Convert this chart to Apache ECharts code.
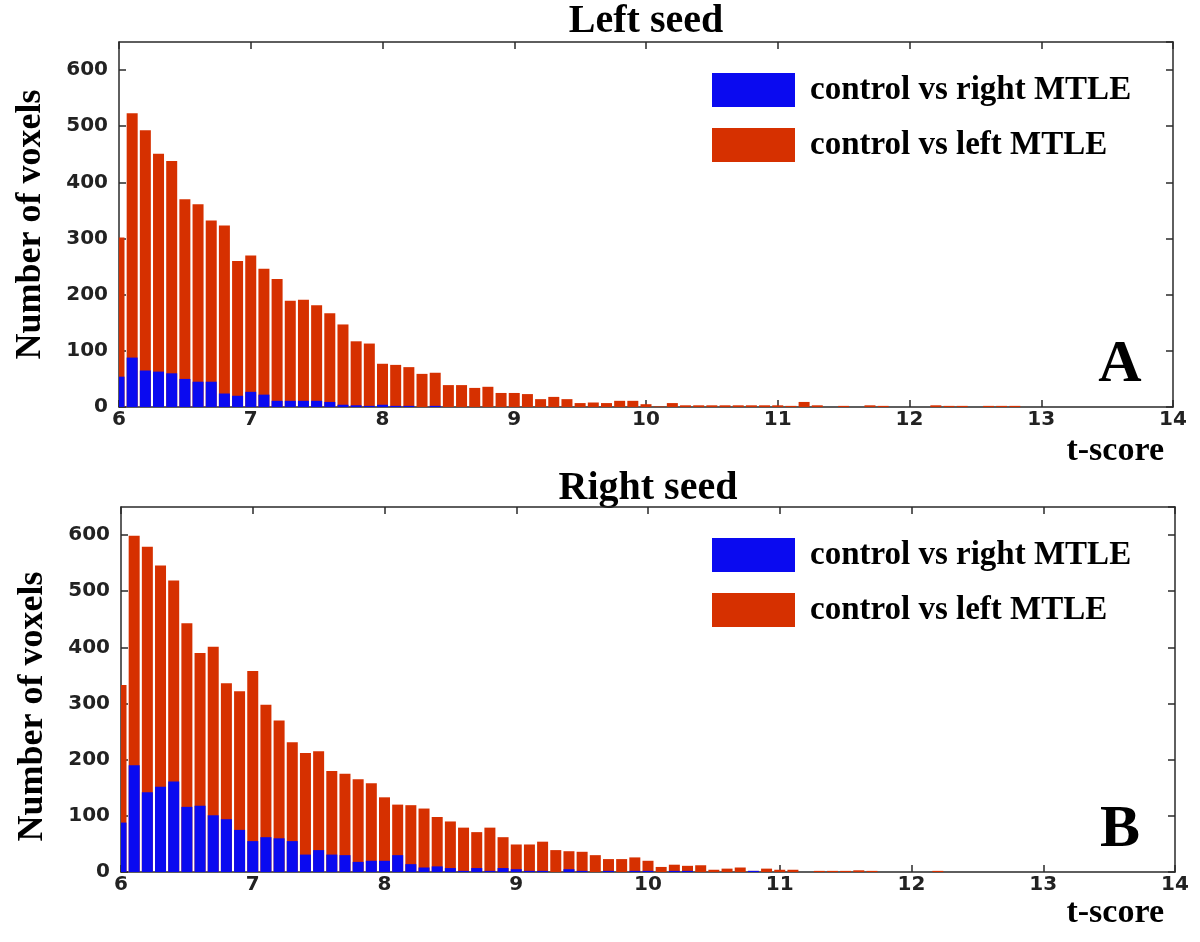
<!DOCTYPE html>
<html>
<head>
<meta charset="utf-8">
<script src="https://cdn.jsdelivr.net/npm/echarts@6/dist/echarts.min.js"></script>
<style>
html,body{margin:0;padding:0;background:#ffffff;}
#chart{width:1200px;height:942px;}
</style>
</head>
<body>
<div id="chart"></div>
<script>
// ---- data ----
const tBins = [6.0,6.1,6.2,6.3,6.4,6.5,6.6,6.7,6.8,6.9,
               7.0,7.1,7.2,7.3,7.4,7.5,7.6,7.7,7.8,7.9,
               8.0,8.1,8.2,8.3,8.4,8.5,8.6,8.7,8.8,8.9,
               9.0,9.1,9.2,9.3,9.4,9.5,9.6,9.7,9.8,9.9,
               10.0,10.1,10.2,10.3,10.4,10.5,10.6,10.7,10.8,10.9,
               11.0,11.1,11.2,11.3,11.4,11.5,11.6,11.7,11.8,11.9,
               12.0,12.1,12.2,12.3,12.4,12.5,12.6,12.7,12.8,12.9,
               13.0];
const seriesNames = ['control vs right MTLE', 'control vs left MTLE'];
const panelTitles = ['Left seed', 'Right seed'];
const panelLetters = ['A', 'B'];
const xAxisTitle = 't-score';
const yAxisTitle = 'Number of voxels';

// Panel A (left seed)
const leftMTLE_A = [302,523,493,451,438,370,361,332,323,260,
                    270,246,228,189,191,181,167,147,117,113,
                    77,75,71,59,61,39,39,34,36,25,
                    25,23,14,18,14,7,8,7,11,11,
                    5,1,7,3,3,3,3,3,3,3,
                    3,2,9,3,0,2,0,3,2,0,
                    0,0,3,2,2,0,2,2,2,0,
                    0];
const rightMTLE_A = [54,88,65,63,60,50,45,45,24,20,
                     27,22,11,11,11,11,9,4,3,2,
                     4,2,2,0,2,0,0,0,0,0,
                     0,0,0,0,0,0,0,0,0,0,
                     0,0,0,0,0,0,0,0,0,0,
                     0,0,0,0,0,0,0,0,0,0,
                     0,0,0,0,0,0,0,0,0,0,
                     0];
// Panel B (right seed)
const leftMTLE_B = [333,599,579,546,519,443,390,401,336,322,
                    358,298,270,231,212,215,180,175,165,158,
                    133,120,119,113,98,90,79,71,79,62,
                    49,49,54,39,37,36,30,23,23,26,
                    20,9,13,11,12,4,6,8,2,6,
                    4,4,0,2,2,2,3,2,0,0,
                    0,0,2,0,0,0,0,0,0,0,
                    0];
const rightMTLE_B = [88,190,142,152,161,116,118,101,94,75,
                     55,62,60,55,31,39,31,30,18,20,
                     20,30,14,8,10,7,2,7,2,7,
                     5,2,2,0,5,2,0,2,0,2,
                     2,0,2,2,0,0,0,0,2,0,
                     0,0,0,0,0,0,0,0,0,0,
                     0,0,0,0,0,0,0,0,0,0,
                     0];

// ---- styling ----
const RED = '#d63000';
const BLUE = '#0a0af0';
const AXIS = '#2a2a2a';
const BAR_PX = 11;
const tickFont = { fontFamily: 'DejaVu Sans', fontWeight: 'bold', fontSize: 20, color: '#222' };
const serifBold = 'Liberation Serif';

const grids = [
  { left: 119, top: 42, width: 1054, height: 365 },
  { left: 121, top: 507, width: 1054, height: 365 }
];

function pairs(arr) { return tBins.map((t, i) => [t, arr[i]]); }

// histogram bar drawn through the axis scales, clipped to the plot box
function renderBin(params, api) {
  const t = api.value(0), v = api.value(1);
  const base = api.coord([t, 0]);
  const top = api.coord([t, v]);
  const cs = params.coordSys;
  const rect = echarts.graphic.clipRectByRect(
    { x: base[0] - BAR_PX / 2, y: top[1], width: BAR_PX, height: base[1] - top[1] },
    { x: cs.x, y: cs.y, width: cs.width, height: cs.height }
  );
  if (!rect) return null;
  return { type: 'rect', shape: rect, style: { fill: api.visual('color') } };
}

const xAxes = [], yAxes = [], series = [];
grids.forEach((g, gi) => {
  xAxes.push({
    gridIndex: gi, type: 'value', min: 6, max: 14, interval: 1, position: 'bottom',
    axisLine: { show: true, onZero: false, lineStyle: { color: AXIS, width: 1.5 } },
    axisTick: { show: true, inside: true, length: 7, lineStyle: { color: AXIS, width: 1.5 } },
    axisLabel: Object.assign({ margin: 3 }, tickFont),
    splitLine: { show: false }
  });
  xAxes.push({
    gridIndex: gi, type: 'value', min: 6, max: 14, interval: 1, position: 'top',
    axisLine: { show: true, onZero: false, lineStyle: { color: AXIS, width: 1.5 } },
    axisTick: { show: true, inside: true, length: 7, lineStyle: { color: AXIS, width: 1.5 } },
    axisLabel: { show: false }, splitLine: { show: false }
  });
  yAxes.push({
    gridIndex: gi, type: 'value', min: 0, max: 650, interval: 100, position: 'left',
    name: yAxisTitle, nameLocation: 'middle', nameGap: 70,
    nameTextStyle: { fontFamily: serifBold, fontWeight: 'bold', fontSize: 36, color: '#000',
                     padding: gi === 1 ? [0, 34, 0, 0] : [0, 0, 0, 0] },
    axisLine: { show: true, onZero: false, lineStyle: { color: AXIS, width: 1.5 } },
    axisTick: { show: true, inside: true, length: 7, lineStyle: { color: AXIS, width: 1.5 } },
    axisLabel: Object.assign({ margin: 11, showMaxLabel: false }, tickFont),
    splitLine: { show: false }
  });
  yAxes.push({
    gridIndex: gi, type: 'value', min: 0, max: 650, interval: 100, position: 'right',
    axisLine: { show: true, onZero: false, lineStyle: { color: AXIS, width: 1.5 } },
    axisTick: { show: true, inside: true, length: 7, lineStyle: { color: AXIS, width: 1.5 } },
    axisLabel: { show: false }, splitLine: { show: false }
  });
});

const dataSets = [[leftMTLE_A, rightMTLE_A], [leftMTLE_B, rightMTLE_B]];
dataSets.forEach((ds, gi) => {
  series.push({
    name: seriesNames[1], type: 'custom', xAxisIndex: gi * 2, yAxisIndex: gi * 2,
    data: pairs(ds[0]), encode: { x: 0, y: 1 }, renderItem: renderBin,
    itemStyle: { color: RED }, z: 2, silent: true
  });
  series.push({
    name: seriesNames[0], type: 'custom', xAxisIndex: gi * 2, yAxisIndex: gi * 2,
    data: pairs(ds[1]), encode: { x: 0, y: 1 }, renderItem: renderBin,
    itemStyle: { color: BLUE }, z: 3, silent: true
  });
});

const legendBase = {
  data: [seriesNames[0], seriesNames[1]], orient: 'vertical', left: 707,
  itemWidth: 83, itemHeight: 34, itemGap: 21, icon: 'rect', selectedMode: false,
  textStyle: { fontFamily: serifBold, fontWeight: 'bold', fontSize: 33, color: '#000', lineHeight: 34, padding: [0, 0, 0, 10] }
};
const legends = [
  Object.assign({}, legendBase, { top: 68 }),
  Object.assign({}, legendBase, { top: 533 })
];

const graphics = [];
const titleY = [22, 489];
const letterY = [365, 830];
const tscoreY = [451, 913];
[0, 1].forEach(gi => {
  const cx = grids[gi].left + grids[gi].width / 2;
  graphics.push({ type: 'text', x: cx, y: titleY[gi], silent: true,
    style: { text: panelTitles[gi], font: 'bold 40px "Liberation Serif"', fill: '#000', align: 'center', verticalAlign: 'middle' } });
  graphics.push({ type: 'text', x: 1120, y: letterY[gi], silent: true,
    style: { text: panelLetters[gi], font: 'bold 60px "Liberation Serif"', fill: '#000', align: 'center', verticalAlign: 'middle' } });
  graphics.push({ type: 'text', x: 1164, y: tscoreY[gi], silent: true,
    style: { text: xAxisTitle, font: 'bold 34px "Liberation Serif"', fill: '#000', align: 'right', verticalAlign: 'middle' } });
});

const chart = echarts.init(document.getElementById('chart'), null, { renderer: 'canvas' });
chart.setOption({
  backgroundColor: '#ffffff',
  animation: false,
  grid: grids.map(g => Object.assign({ show: false, containLabel: false }, g)),
  xAxis: xAxes,
  yAxis: yAxes,
  legend: legends,
  series: series,
  graphic: graphics
});
</script>
</body>
</html>
